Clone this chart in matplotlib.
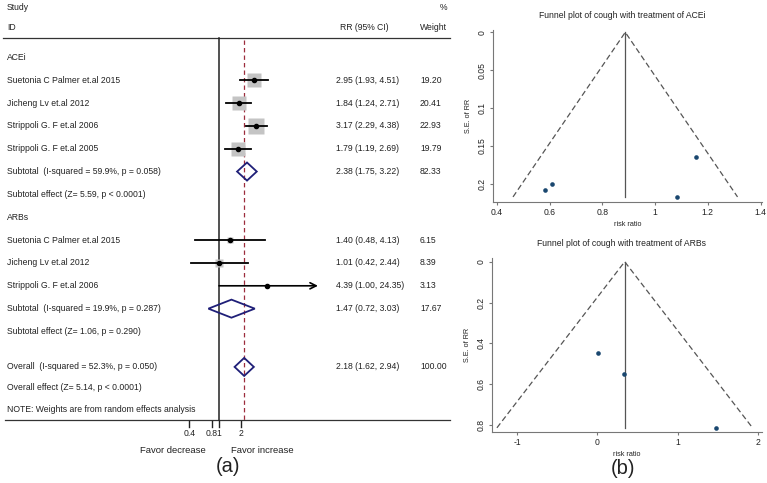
import numpy as np
import matplotlib
matplotlib.use("Agg")
import matplotlib.pyplot as plt
from matplotlib.patches import Polygon

plt.rcParams['font.family'] = ['Liberation Sans', 'DejaVu Sans']

# forest plot data
acei_studies = ["Suetonia C Palmer et.al 2015", "Jicheng Lv et.al 2012",
                "Strippoli G. F et.al 2006", "Strippoli G. F et.al 2005"]
acei_rr = [2.95, 1.84, 3.17, 1.79]
acei_lo = [1.93, 1.24, 2.29, 1.19]
acei_hi = [4.51, 2.71, 4.38, 2.69]
acei_w = [19.20, 20.41, 22.93, 19.79]
acei_sub = [2.38, 1.75, 3.22, 82.33]

arb_studies = ["Suetonia C Palmer et.al 2015", "Jicheng Lv et.al 2012",
               "Strippoli G. F et.al 2006"]
arb_rr = [1.40, 1.01, 4.39]
arb_lo = [0.48, 0.42, 1.00]
arb_hi = [4.13, 2.44, 24.35]
arb_w = [6.15, 8.39, 3.13]
arb_sub = [1.47, 0.72, 3.03, 17.67]

overall = [2.18, 1.62, 2.94, 100.00]

acei_het = "Subtotal  (I-squared = 59.9%, p = 0.058)"
acei_eff = "Subtotal effect (Z= 5.59, p < 0.0001)"
arb_het = "Subtotal  (I-squared = 19.9%, p = 0.287)"
arb_eff = "Subtotal effect (Z= 1.06, p = 0.290)"
all_het = "Overall  (I-squared = 52.3%, p = 0.050)"
all_eff = "Overall effect (Z= 5.14, p < 0.0001)"
note = "NOTE: Weights are from random effects analysis"

xticks_rr = [0.4, 0.8, 1, 2]
xtick_labels = ["0.4", "0.8", "1", "2"]

# funnel plot data (log RR and its standard error)
acei_logrr = [1.082, 0.610, 1.154, 0.582]
acei_se = [0.217, 0.200, 0.165, 0.208]
acei_center = 0.887
arb_logrr = [0.336, 0.010, 1.479]
arb_se = [0.549, 0.449, 0.814]
arb_center = 0.34

W, H = 767, 483
FS = 6.2
TXT = '#222222'
NAVY = '#1f1f78'
GREY = '#c4c4c4'

fig = plt.figure(figsize=(W / 100, H / 100), dpi=100)

# ---- forest plot ----
FW = 460
NULL_PX = 219.0
PX_LN = 32.3
ROW0 = 57.3
ROWH = 22.85
CLIP_RR = 21.4


def row_of(px):
    return 1 + (px - ROW0) / ROWH


def fx(px):
    return px / FW


ax = fig.add_axes([0, 0, FW / W, 1])
ax.set_xscale('log')
ax.set_xlim(np.exp(-NULL_PX / PX_LN), np.exp((FW - NULL_PX) / PX_LN))
ax.set_ylim(row_of(H), row_of(0))
ax.axis('off')
tx = ax.get_yaxis_transform()

ax.text(fx(7), row_of(7), "Study", transform=tx, fontsize=FS, color=TXT, va='center')
ax.text(fx(7), row_of(28), "ID", transform=tx, fontsize=FS, color=TXT, va='center')
ax.text(fx(340), row_of(28), "RR (95% CI)", transform=tx, fontsize=FS, color=TXT, va='center')
ax.text(fx(420), row_of(28), "Weight", transform=tx, fontsize=FS, color=TXT, va='center')
ax.text(fx(447), row_of(7), "%", transform=tx, fontsize=FS, color=TXT, va='center', ha='right')

top_r = row_of(38.3)
bot_r = row_of(419.5)
ax.plot([fx(3), fx(450)], [top_r, top_r], transform=tx, color='#333333', lw=0.9)
ax.plot([fx(5), fx(450)], [bot_r, bot_r], transform=tx, color='#333333', lw=0.9)
ax.plot([1, 1], [top_r, bot_r], color='#222222', lw=1.1)
ax.plot([overall[0], overall[0]], [row_of(40), bot_r], color='#9c2c3c',
        lw=0.9, ls=(0, (3.5, 2.5)))

for t, lab in zip(xticks_rr, xtick_labels):
    ax.plot([t, t], [row_of(420.7), row_of(426.7)], color='#222222', lw=1.0)
    ax.text(t, row_of(433.5), lab, fontsize=FS, color=TXT, ha='center', va='center')
ax.text(fx(173), row_of(451), "Favor decrease", transform=tx, fontsize=6.8,
        color=TXT, ha='center', va='center')
ax.text(fx(262), row_of(451), "Favor increase", transform=tx, fontsize=6.8,
        color=TXT, ha='center', va='center')


def study_rows(names, rr, lo, hi, w, rows):
    for n, e, l, h, wt, r in zip(names, rr, lo, hi, w, rows):
        ax.text(fx(7), r, n, transform=tx, fontsize=FS, color=TXT, va='center')
        ax.text(fx(336), r, f"{e:.2f} ({l:.2f}, {h:.2f})", transform=tx,
                fontsize=FS, color=TXT, va='center')
        ax.text(fx(420), r, f"{wt:.2f}", transform=tx, fontsize=FS, color=TXT, va='center')
        side_px = 2.2 + 0.58 * wt
        ax.plot([e], [r], marker='s', ms=side_px * 0.72, color=GREY, mec='none', zorder=2)
        if h > CLIP_RR:
            ax.annotate('', xy=(CLIP_RR, r), xytext=(l, r),
                        arrowprops=dict(arrowstyle='->', lw=1.2, color='black',
                                        mutation_scale=11, shrinkA=0, shrinkB=0))
        else:
            ax.plot([l, h], [r, r], color='black', lw=1.3, zorder=3)
        ax.plot([e], [r], marker='o', ms=3.0, color='black', zorder=4)


def diamond(est, lo, hi, wt, r, label):
    hh = 0.395
    ax.add_patch(Polygon([(lo, r), (est, r - hh), (hi, r), (est, r + hh)], closed=True,
                         fill=False, edgecolor=NAVY, lw=1.3, zorder=5))
    ax.text(fx(7), r, label, transform=tx, fontsize=FS, color=TXT, va='center')
    ax.text(fx(336), r, f"{est:.2f} ({lo:.2f}, {hi:.2f})", transform=tx,
            fontsize=FS, color=TXT, va='center')
    ax.text(fx(420), r, f"{wt:.2f}", transform=tx, fontsize=FS, color=TXT, va='center')


ax.text(fx(7), 1, "ACEi", transform=tx, fontsize=FS, color=TXT, va='center')
study_rows(acei_studies, acei_rr, acei_lo, acei_hi, acei_w, [2, 3, 4, 5])
diamond(*acei_sub, 6, acei_het)
ax.text(fx(7), 7, acei_eff, transform=tx, fontsize=FS, color=TXT, va='center')

ax.text(fx(7), 8, "ARBs", transform=tx, fontsize=FS, color=TXT, va='center')
study_rows(arb_studies, arb_rr, arb_lo, arb_hi, arb_w, [9, 10, 11])
diamond(*arb_sub, 12, arb_het)
ax.text(fx(7), 13, arb_eff, transform=tx, fontsize=FS, color=TXT, va='center')

diamond(*overall, 14.55, all_het)
ax.text(fx(7), 15.45, all_eff, transform=tx, fontsize=FS, color=TXT, va='center')
ax.text(fx(7), 16.4, note, transform=tx, fontsize=FS, color=TXT, va='center')

fig.text(228 / W, 1 - 467 / H, "(a)", fontsize=14.5, color=TXT, ha='center', va='center')


# ---- funnel plots ----
def funnel(rect, logrr, se, center, xlim, ylim, xticks, xlabels, yticks, ylabels, title):
    fa = fig.add_axes(rect)
    se_max = max(se)
    fa.plot([center - 1.96 * se_max, center, center + 1.96 * se_max], [se_max, 0, se_max],
            color='#555555', lw=0.9, ls=(0, (4.5, 2.5)))
    fa.plot([center, center], [0, se_max], color='#555555', lw=0.9)
    fa.scatter(logrr, se, s=11, color='#1a476f', zorder=3, linewidths=0)
    fa.set_xlim(*xlim)
    fa.set_ylim(*ylim)
    for s in ['top', 'right']:
        fa.spines[s].set_visible(False)
    for s in ['left', 'bottom']:
        fa.spines[s].set_color('#777777')
        fa.spines[s].set_linewidth(0.8)
    fa.set_xticks(xticks)
    fa.set_xticklabels(xlabels)
    fa.set_yticks(yticks)
    fa.set_yticklabels(ylabels, rotation=90, va='center')
    fa.tick_params(length=2.5, width=0.8, color='#777777', labelsize=FS,
                   labelcolor=TXT, pad=2)
    fa.set_xlabel("risk ratio", fontsize=5.2, color=TXT, labelpad=3)
    fa.set_ylabel("S.E. of RR", fontsize=5.2, color=TXT, labelpad=4)
    fa.set_title(title, fontsize=FS, color=TXT, pad=8.5, x=0.48)
    fa.patch.set_alpha(0)
    return fa


funnel([493.3 / W, 1 - 201.7 / H, 268.7 / W, 171.7 / H], acei_logrr, acei_se, acei_center,
       (0.387, 1.405), (0.2233, -0.003),
       [0.4, 0.6, 0.8, 1.0, 1.2, 1.4], ["0.4", "0.6", "0.8", "1", "1.2", "1.4"],
       [0, 0.05, 0.1, 0.15, 0.2], ["0", "0.05", "0.1", "0.15", "0.2"],
       "Funnel plot of cough with treatment of ACEi")

funnel([492.3 / W, 1 - 431.7 / H, 269.4 / W, 173.4 / H], arb_logrr, arb_se, arb_center,
       (-1.313, 2.05), (0.833, -0.0167),
       [-1, 0, 1, 2], ["-1", "0", "1", "2"],
       [0, 0.2, 0.4, 0.6, 0.8], ["0", "0.2", "0.4", "0.6", "0.8"],
       "Funnel plot of cough with treatment of ARBs")

fig.text(623 / W, 1 - 468 / H, "(b)", fontsize=14.5, color=TXT, ha='center', va='center')

fig.savefig("out.png", dpi=100)
